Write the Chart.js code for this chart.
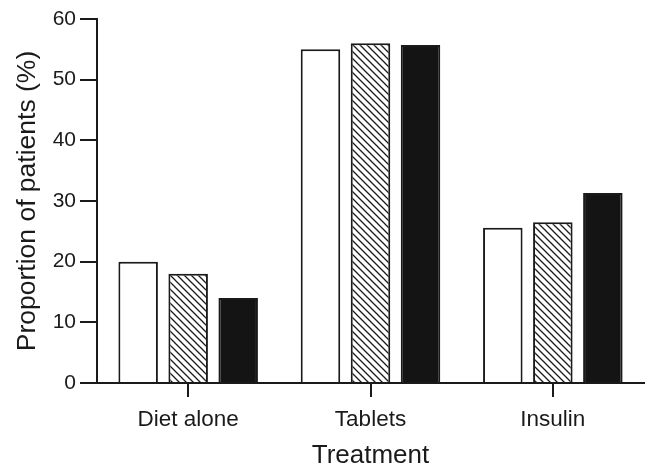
<!DOCTYPE html>
<html>
<head>
<meta charset="utf-8">
<script src="https://cdn.jsdelivr.net/npm/chart.js@4/dist/chart.umd.min.js"></script>
<style>
  html, body { margin: 0; padding: 0; background: #ffffff; }
  #wrap { width: 649px; height: 469px; }
</style>
</head>
<body>
<div id="wrap"><canvas id="c" width="649" height="469"></canvas></div>
<script>
const categories = ['Diet alone', 'Tablets', 'Insulin'];
const seriesWhite = [20, 55, 25.6];
const seriesHatched = [18, 56, 26.5];
const seriesBlack = [14, 55.7, 31.3];
const yTicks = [0, 10, 20, 30, 40, 50, 60];

const INK = '#1a1a1a';
const FAMILY = 'Liberation Sans, Arial, sans-serif';

function hatchPattern() {
  const s = 7;
  const pc = document.createElement('canvas');
  pc.width = s; pc.height = s;
  const g = pc.getContext('2d');
  g.fillStyle = '#ffffff';
  g.fillRect(0, 0, s, s);
  g.strokeStyle = INK;
  g.lineWidth = 1.3;
  g.beginPath();
  g.moveTo(-1, -1); g.lineTo(s + 1, s + 1);
  g.moveTo(-1, s - 1); g.lineTo(1, s + 1);
  g.moveTo(s - 1, -1); g.lineTo(s + 1, 1);
  g.stroke();
  return g.createPattern(pc, 'repeat');
}

const ctx = document.getElementById('c').getContext('2d');
const common = { borderColor: INK, borderWidth: 2, borderSkipped: 'start',
                 categoryPercentage: 0.823, barPercentage: 0.79 };

new Chart(ctx, {
  type: 'bar',
  data: {
    labels: categories,
    datasets: [
      Object.assign({ label: 'A', data: seriesWhite, backgroundColor: '#ffffff' }, common),
      Object.assign({ label: 'B', data: seriesHatched, backgroundColor: hatchPattern() }, common),
      Object.assign({ label: 'C', data: seriesBlack, backgroundColor: '#141414' }, common)
    ]
  },
  options: {
    responsive: false,
    animation: false,
    layout: { padding: { left: 0, right: 5, top: 19, bottom: 0 } },
    plugins: { legend: { display: false }, tooltip: { enabled: false } },
    scales: {
      x: {
        offset: true,
        grid: { display: true, drawOnChartArea: false, offset: false, tickLength: 14, color: INK, lineWidth: 2 },
        border: { display: true, color: INK, width: 2 },
        ticks: { color: INK, padding: 9, font: { family: FAMILY, size: 22.5 } },
        title: { display: true, text: 'Treatment', color: INK, padding: { top: 0, bottom: 0 },
                 font: { family: FAMILY, size: 26, lineHeight: 1.0 } },
        afterFit: (s) => { s.height = 469 - 383; }
      },
      y: {
        min: 0, max: 60,
        afterBuildTicks: (s) => { s.ticks = yTicks.map(v => ({ value: v })); },
        grid: { display: true, drawOnChartArea: false, tickLength: 17, color: INK, lineWidth: 2 },
        border: { display: true, color: INK, width: 2 },
        ticks: { color: INK, padding: 4, font: { family: FAMILY, size: 21 } },
        title: { display: true, text: 'Proportion of patients (%)', color: INK, padding: { top: 12, bottom: 0 },
                 font: { family: FAMILY, size: 26.5 } },
        afterFit: (s) => { s.width = 97; }
      }
    }
  }
});
</script>
</body>
</html>
